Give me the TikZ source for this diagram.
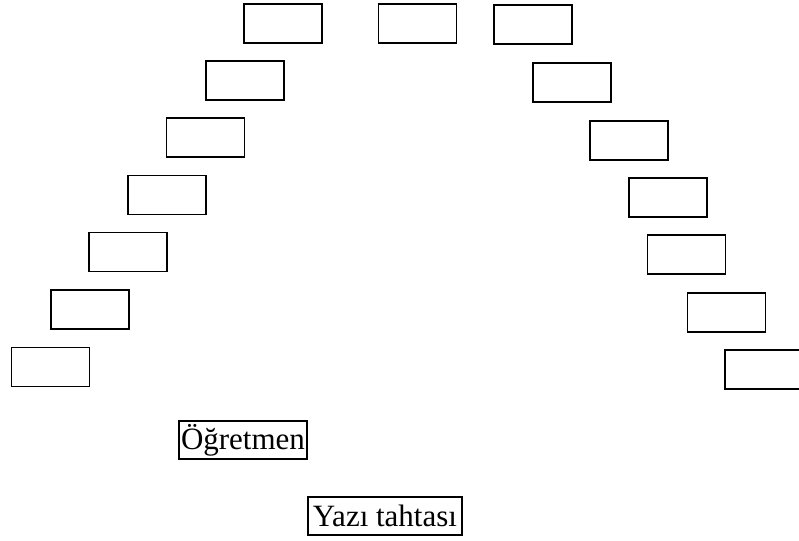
\documentclass[tikz,border=0pt]{standalone}
\usepackage{fontspec}
\setmainfont{Liberation Serif}
\tikzset{
  seat/.style={draw, line width=1.8pt, minimum width=78pt, minimum height=39pt, inner sep=0pt},
  tag/.style={draw, line width=1.1pt, inner sep=0pt, font=\fontsize{31}{36}\selectfont}
}
\begin{document}
\begin{tikzpicture}[x=1pt, y=-1pt]
  \clip (0,0) rectangle (799,540);
  \fill[white] (0,0) rectangle (799,540);
  % top row
  \node[seat] (t1) at (283,23.5) {};
  \node[seat] (t2) at (417.5,23.5) {};
  \node[seat] (t3) at (533,24.5) {};
  % left arc
  \node[seat] (l2) at (245,80.5) {};
  \node[seat] (l3) at (205.5,137.5) {};
  \node[seat] (l4) at (167,195) {};
  \node[seat] (l5) at (128,252) {};
  \node[seat] (l6) at (90,309.5) {};
  \node[seat] (l7) at (50.5,367) {};
  % right arc
  \node[seat] (r2) at (572,82.5) {};
  \node[seat] (r3) at (629,140.5) {};
  \node[seat] (r4) at (668,197.5) {};
  \node[seat] (r5) at (686.5,254.5) {};
  \node[seat] (r6) at (726.5,312.5) {};
  \node[seat] (r7) at (764,369.5) {};
  % labels
  \node[tag, minimum width=128pt, minimum height=38pt] (teacher) at (243,440) {Öğretmen};
  \node[tag, minimum width=154pt, minimum height=38pt] (board) at (385,516) {Yazı tahtası};
\end{tikzpicture}
\end{document}
